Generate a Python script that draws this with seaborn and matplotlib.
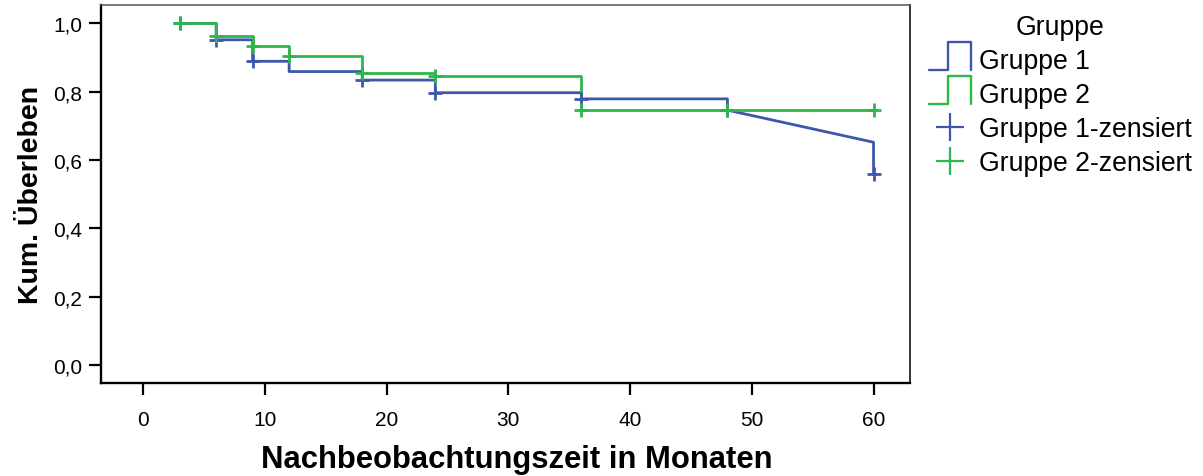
import pandas as pd
import matplotlib
matplotlib.use("Agg")
import matplotlib.pyplot as plt
import seaborn as sns
from matplotlib.lines import Line2D
from matplotlib.legend_handler import HandlerBase

sns.set_style("white")
plt.rcParams["font.family"] = ["Liberation Sans", "DejaVu Sans"]
plt.rcParams["text.color"] = "black"
plt.rcParams["axes.labelcolor"] = "black"
plt.rcParams["xtick.color"] = "black"
plt.rcParams["ytick.color"] = "black"

# Kaplan-Meier steps: time (months) and cumulative survival after that time
times_g1 = [3, 6, 9, 12, 18, 24, 36, 48]
surv_g1 = [1.0, 0.952, 0.889, 0.859, 0.834, 0.797, 0.779, 0.746]
# group 1 runs as a slope to 60 months, then drops
tail_t_g1 = [60, 60]
tail_s_g1 = [0.652, 0.559]
cens_t_g1 = [3, 6, 9, 18, 24, 36, 48, 60]
cens_s_g1 = [1.0, 0.952, 0.889, 0.834, 0.797, 0.779, 0.746, 0.559]

times_g2 = [3, 6, 9, 12, 18, 24, 36, 60]
surv_g2 = [1.0, 0.964, 0.935, 0.906, 0.854, 0.845, 0.746, 0.746]
cens_t_g2 = [3, 6, 9, 12, 18, 24, 36, 48, 60]
cens_s_g2 = [1.0, 0.964, 0.935, 0.906, 0.854, 0.845, 0.746, 0.746, 0.746]

groups = ["Gruppe 1", "Gruppe 2"]
colors = {"Gruppe 1": "#3d57aa", "Gruppe 2": "#2db84b"}
x_ticks = [0, 10, 20, 30, 40, 50, 60]
y_ticks = [0.0, 0.2, 0.4, 0.6, 0.8, 1.0]


def step_path(t, s):
    xs, ys = [t[0]], [s[0]]
    for i in range(1, len(t)):
        xs += [t[i], t[i]]
        ys += [s[i - 1], s[i]]
    return xs, ys


x1, y1 = step_path(times_g1, surv_g1)
x1 += tail_t_g1
y1 += tail_s_g1
x2, y2 = step_path(times_g2, surv_g2)

curves = pd.DataFrame({
    "time": x1 + x2,
    "surv": y1 + y2,
    "gruppe": ["Gruppe 1"] * len(x1) + ["Gruppe 2"] * len(x2),
})
censored = pd.DataFrame({
    "time": cens_t_g1 + cens_t_g2,
    "surv": cens_s_g1 + cens_s_g2,
    "gruppe": ["Gruppe 1"] * len(cens_t_g1) + ["Gruppe 2"] * len(cens_t_g2),
})

fig = plt.figure(figsize=(12.03, 4.77), dpi=100)
ax = fig.add_axes([0.084, 0.195, 0.6725, 0.7925])

for g in groups:
    sns.lineplot(data=curves[curves["gruppe"] == g], x="time", y="surv",
                 color=colors[g], sort=False, estimator=None, lw=2.0, ax=ax,
                 legend=False)
    sns.scatterplot(data=censored[censored["gruppe"] == g], x="time", y="surv",
                    color=colors[g], marker="+", s=100, linewidth=2.0, ax=ax,
                    legend=False, zorder=3)

ax.set_xlim(-3.45, 63.0)
ax.set_ylim(-0.053, 1.054)
ax.set_xticks(x_ticks)
ax.set_yticks(y_ticks)
ax.set_yticklabels([f"{v:.1f}".replace(".", ",") for v in y_ticks])
ax.tick_params(axis="both", direction="out", length=8.5, width=1.6,
               labelsize=15, color="black", pad=5, bottom=True, left=True)
ax.tick_params(axis="x", pad=11)

for side in ["left", "bottom"]:
    ax.spines[side].set_color("black")
    ax.spines[side].set_linewidth(1.7)
ax.spines["top"].set_color("#555555")
ax.spines["top"].set_linewidth(1.1)
ax.spines["right"].set_color("black")
ax.spines["right"].set_linewidth(1.1)

ax.set_xlabel("Nachbeobachtungszeit in Monaten", fontsize=22.3, fontweight="bold")
ax.set_ylabel("Kum. Überleben", fontsize=20.5, fontweight="bold")
ax.xaxis.set_label_coords(0.514, -0.162)
ax.yaxis.set_label_coords(-0.07, 0.5)


class StepHandler(HandlerBase):
    def create_artists(self, legend, orig_handle, xdescent, ydescent, width,
                       height, fontsize, trans):
        x0 = -xdescent
        mid = -ydescent + height / 2
        top = mid + 12.0
        bot = mid - 8.0
        xm = x0 + 0.45 * width
        line = Line2D([x0, xm, xm, x0 + width, x0 + width],
                      [bot, bot, top, top, bot],
                      color=orig_handle.get_color(), lw=1.7, transform=trans)
        return [line]


handles = [
    Line2D([], [], color=colors["Gruppe 1"]),
    Line2D([], [], color=colors["Gruppe 2"]),
    Line2D([], [], color=colors["Gruppe 1"], marker="+", ls="none",
           markersize=20, mew=1.6),
    Line2D([], [], color=colors["Gruppe 2"], marker="+", ls="none",
           markersize=20, mew=1.6),
]
labels = ["Gruppe 1", "Gruppe 2", "Gruppe 1-zensiert", "Gruppe 2-zensiert"]
leg = fig.legend(handles, labels, title="Gruppe", loc="upper left",
                 bbox_to_anchor=(0.7725, 0.968), frameon=False, fontsize=19.2,
                 title_fontsize=19.2, handlelength=1.57, handletextpad=0.28,
                 labelspacing=0.3, borderaxespad=0, borderpad=0,
                 handler_map={handles[0]: StepHandler(), handles[1]: StepHandler()})

fig.savefig("out.png", dpi=100)
